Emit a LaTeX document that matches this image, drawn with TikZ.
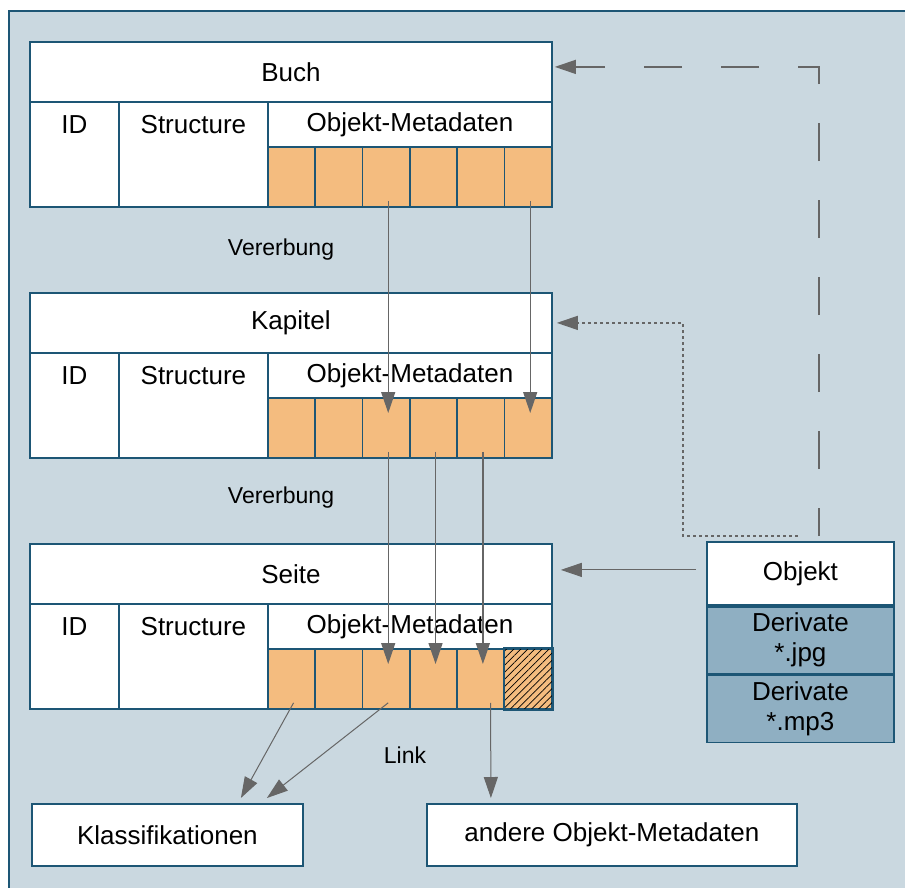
\documentclass[tikz,border=0pt]{standalone}
\usepackage{fontspec}
\setmainfont{Liberation Sans}
\usetikzlibrary{positioning,calc,arrows.meta,patterns.meta}

\definecolor{framebg}{HTML}{CAD8E0}
\definecolor{boxline}{HTML}{1D5675}
\definecolor{metaorange}{HTML}{F4BC7F}
\definecolor{derivblue}{HTML}{8FAFC2}
\definecolor{arrowgray}{HTML}{666666}

\tikzset{
  box/.style={draw=boxline, line width=1.8pt, fill=white, inner sep=0pt,
    font=\fontsize{26}{30}\selectfont, text=black},
  boxtext/.style={inner sep=0pt, font=\fontsize{26}{30}\selectfont, text=black},
  cell/.style={box, fill=metaorange, minimum width=47.33pt, minimum height=60pt, anchor=north west},
  note/.style={inner sep=0pt, font=\fontsize{23}{27}\selectfont, text=black},
  conn/.style={draw=arrowgray, line width=1.3pt, -{Triangle[length=21pt,width=14pt]}},
}

\begin{document}
\begin{tikzpicture}[x=1pt,y=-1pt]
  \useasboundingbox (0,0) rectangle (905,887);
  % Frame
  \fill[framebg] (9,11) rectangle (915,897);
  \draw[boxline, line width=2pt] (9,897) -- (9,11) -- (915,11);

  % Buch, Kapitel, Seite
  \foreach \blk/\t/\lab in {buch/41/Buch, kapitel/292/Kapitel, seite/543/Seite} {
    \node[box, minimum width=522, minimum height=60, anchor=north west] (\blk) at (29,\t) {\lab};
    \node[box, minimum width=89, minimum height=105, anchor=north west] (\blk-id) at (29,\t+60) {};
    \node[box, minimum width=149, minimum height=105, anchor=north west] (\blk-struct) at (118,\t+60) {};
    \node[box, minimum width=284, minimum height=45, anchor=north west] (\blk-meta) at (267,\t+60) {Objekt-Metadaten};
    \node[boxtext] (\blk-idtext) at ([yshift=-24pt]\blk-id.north) {ID};
    \node[boxtext] (\blk-structtext) at ([yshift=-24pt]\blk-struct.north) {Structure};
    \foreach \i in {1,...,6}
      \node[cell] (\blk-c\i) at ({267+(\i-1)*47.33},\t+105) {};
  }
  % hatched cell
  \draw[boxline, line width=1.8pt, pattern={Lines[angle=45,distance=5pt,line width=0.7pt]}]
    (seite-c6.north west) rectangle (seite-c6.south east);

  % Objekt
  \node[box, minimum width=187, minimum height=63, anchor=north west] (objekt) at (706,541) {Objekt};
  \node[box, fill=derivblue, minimum width=187, minimum height=67, anchor=north, align=center] (jpg) at (objekt.south) {Derivate\\*.jpg};
  \node[box, fill=derivblue, minimum width=187, minimum height=67, anchor=north, align=center] (mp3) at (jpg.south) {Derivate\\*.mp3};

  % Links
  \node[box, minimum width=271, minimum height=62, anchor=north west] (klass) at (31,803) {Klassifikationen};
  \node[box, minimum width=370, minimum height=62, anchor=north west] (andere) at (426,803) {andere Objekt-Metadaten};

  % Labels
  \node[note] (vererbung1) at (281,250) {Vererbung};
  \node[note] (vererbung2) at (281,498) {Vererbung};
  \node[note] (link) at (405,755) {Link};

  % Vererbung arrows
  \draw[conn] ([xshift=2pt,yshift=7pt]buch-c3.south) -- ([xshift=2pt,yshift=-16pt]kapitel-c3.north);
  \draw[conn] ([xshift=2pt,yshift=7pt]buch-c6.south) -- ([xshift=2pt,yshift=-16pt]kapitel-c6.north);
  \foreach \i in {3,4,5}
    \draw[conn] ([xshift=2pt,yshift=7pt]kapitel-c\i.south) -- ([xshift=2pt,yshift=-16pt]seite-c\i.north);

  % Link arrows
  \draw[conn, line width=1pt] ([xshift=2pt,yshift=7pt]seite-c1.south) -- ([xshift=73.5pt,yshift=5pt]klass.north);
  \draw[conn, line width=1pt] ([xshift=2pt,yshift=7pt]seite-c3.south) -- ([xshift=99.5pt,yshift=5pt]klass.north);
  \draw[conn, line width=1pt] ([xshift=9.7pt,yshift=7pt]seite-c5.south) -- ([xshift=-121pt,yshift=5pt]andere.north);

  % Objekt arrows
  \draw[conn, line width=1pt] ([xshift=-10pt,yshift=3.5pt]objekt.west) -- ([xshift=8pt,yshift=4pt]seite.east);
  \draw[conn, line width=1.2pt, dash pattern=on 3pt off 3pt]
    ([xshift=-2.5pt,yshift=5pt]objekt.north) -- ++(-115,0) |- ([xshift=4pt]kapitel.east);
  \draw[conn, dash pattern=on 38pt off 39pt, dash phase=10pt]
    ([xshift=18.5pt,yshift=5pt]objekt.north) |- ([xshift=2pt,yshift=5pt]buch.east);
\end{tikzpicture}
\end{document}
